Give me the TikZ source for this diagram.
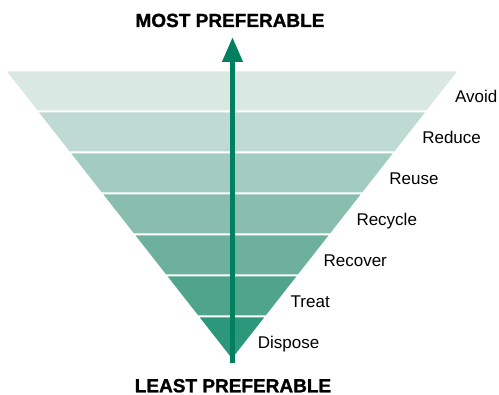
\documentclass[tikz,border=0pt]{standalone}
\usepackage{fontspec}
\setmainfont{Liberation Sans}
\newfontfamily\heavyfont[FakeBold=1.2]{Liberation Sans Bold}
\usetikzlibrary{arrows.meta}

\definecolor{bandA}{HTML}{D9E8E3}
\definecolor{bandB}{HTML}{BEDAD2}
\definecolor{bandC}{HTML}{A3CCC0}
\definecolor{bandD}{HTML}{89BEAF}
\definecolor{bandE}{HTML}{6DB19D}
\definecolor{bandF}{HTML}{51A48C}
\definecolor{bandG}{HTML}{2C977A}
\definecolor{arrowgreen}{HTML}{00805F}

\tikzset{
  steplabel/.style={inner sep=0pt, anchor=base west, font=\fontsize{17}{20}\selectfont},
  heading/.style={inner sep=0pt, anchor=base, font=\heavyfont\fontsize{19}{22}\selectfont}
}

\begin{document}
\begin{tikzpicture}[x=1pt,y=-1pt]
    \useasboundingbox (0,0) rectangle (499,395);

    % the seven bands of the inverted pyramid
    \foreach \col [count=\i from 0] in {bandA,bandB,bandC,bandD,bandE,bandF,bandG}{
        \pgfmathsetmacro{\ytop}{71.5+41*\i}
        \pgfmathsetmacro{\ybot}{\i<6 ? \ytop+39 : 358.5}
        \pgfmathsetmacro{\wtop}{0.78397*(358.5-\ytop)}
        \pgfmathsetmacro{\wbot}{0.78397*(358.5-\ybot)}
        \fill[\col] (232-\wtop,\ytop) -- (232+\wtop,\ytop) -- (232+\wbot,\ybot) -- (232-\wbot,\ybot) -- cycle;
    }

    % labels
    \foreach \lab [count=\i from 0] in {Avoid,Reduce,Reuse,Recycle,Recover,Treat,Dispose}
        \node[steplabel] (l\i) at (455-32.9*\i, 102.7+40.9*\i) {\lab};

    \node[heading] (most) at (230,27) {MOST PREFERABLE};
    \node[heading] (least) at (233,392.3) {LEAST PREFERABLE};

    % arrow
    \coordinate (low) at (232.5,363);
    \coordinate (high) at (232.5,37);
    \draw[arrowgreen, line width=5.5pt, -{Triangle[width=19.5pt,length=25pt]}] (low) -- (high);
\end{tikzpicture}
\end{document}
